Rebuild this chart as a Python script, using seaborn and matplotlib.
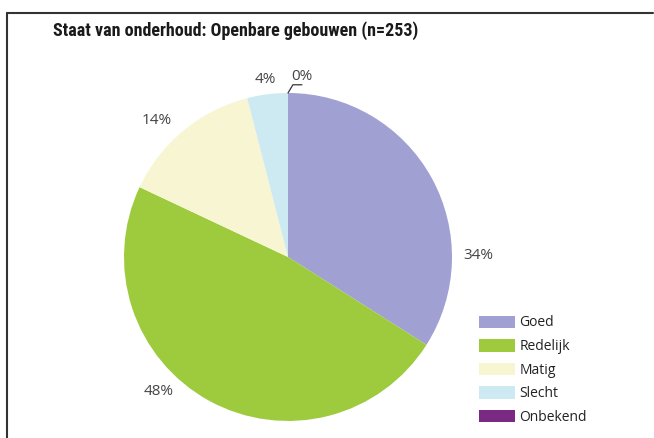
import matplotlib
matplotlib.use("Agg")
import matplotlib.pyplot as plt
from matplotlib.lines import Line2D
from matplotlib.patches import Patch
import seaborn as sns

# data
categories = ["Goed", "Redelijk", "Matig", "Slecht", "Onbekend"]
shares = [34, 48, 14, 4, 0]
pct_labels = ["34%", "48%", "14%", "4%", "0%"]
colors = ["#a0a0d2", "#9ecb3e", "#f8f6d2", "#cdeaf2", "#7b2a83"]
title = "Staat van onderhoud: Openbare gebouwen (n=253)"

sns.set_theme(style="white")
plt.rcParams["font.family"] = ["Open Sans", "DejaVu Sans"]

fig = plt.figure(figsize=(6.54, 4.38), dpi=100)
ax = fig.add_axes([0.1896, 0.0388, 0.5015, 0.749])
wedges, _ = ax.pie(shares, colors=sns.color_palette(colors), startangle=90,
                   counterclock=False, radius=1,
                   wedgeprops=dict(linewidth=0))
ax.set_xlim(-1, 1)
ax.set_ylim(-1, 1)
ax.set_aspect("equal")
ax.axis("off")

# label spots outside the pie (pie units)
label_pos = [(1.16, 0.01), (-0.79, -0.82), (-0.80, 0.835), (-0.14, 1.085), (0.085, 1.10)]
for txt, (x, y) in zip(pct_labels, label_pos):
    ax.text(x, y, txt, ha="center", va="center", fontsize=11,
            color="#444444", clip_on=False)

# leader line of the 0% label
ax.add_line(Line2D([0.0, 0.03, 0.085], [1.0, 1.05, 1.05], color="#333333",
                   lw=0.9, clip_on=False))

fig.text(53 / 654, 1 - 31 / 438, title, ha="left", va="center",
         fontsize=13, fontweight="bold", color="#1a1a1a",
         family=["Roboto Condensed", "Roboto", "DejaVu Sans"])

handles = [Patch(facecolor=c, edgecolor="none") for c in colors]
fig.legend(handles, categories, loc="upper left",
           bbox_to_anchor=(466 / 654, 1 - 303 / 438), frameon=False,
           fontsize=10, handlelength=2.6, handleheight=1.0,
           labelspacing=0.62, handletextpad=0.35, labelcolor="#222222")

# frame: top and left rules only
fig.add_artist(Line2D([7 / 654, 653 / 654], [1 - 13 / 438, 1 - 13 / 438],
                      color="#333333", lw=1.5))
fig.add_artist(Line2D([7 / 654, 7 / 654], [1 - 13 / 438, 0],
                      color="#333333", lw=1.5))

fig.savefig("out.png", dpi=100)
